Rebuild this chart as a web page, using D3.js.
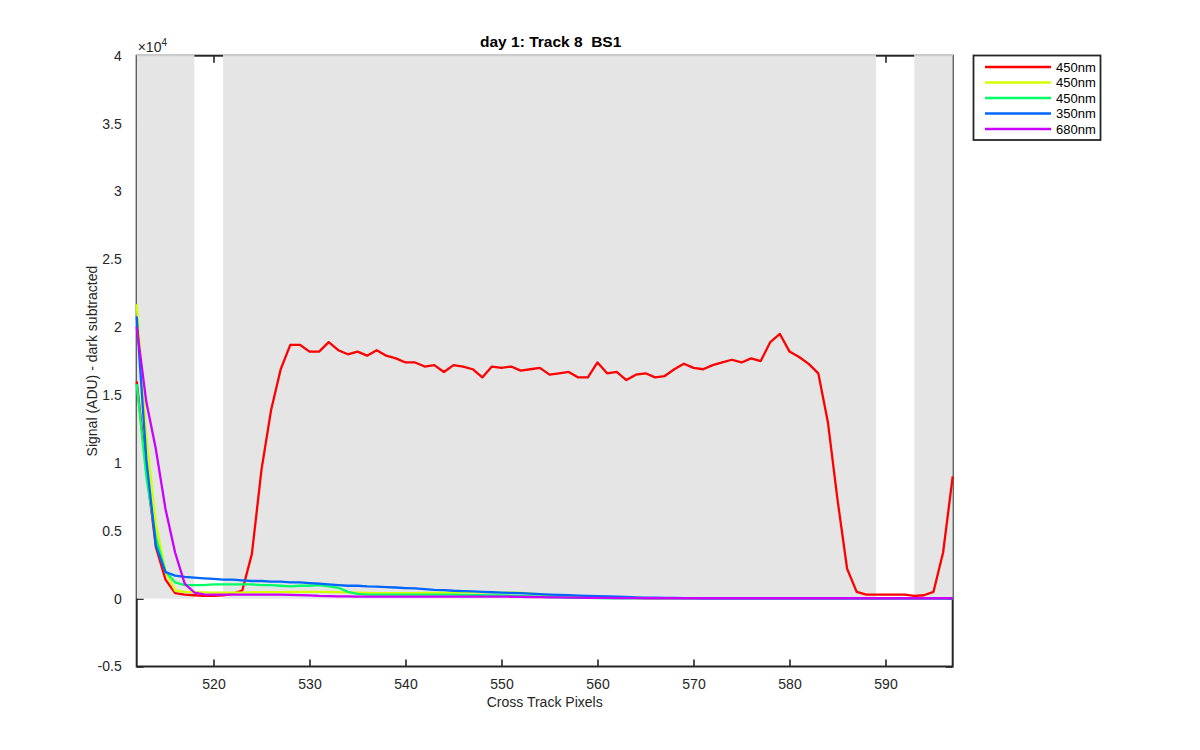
<!DOCTYPE html>
<html>
<head>
<meta charset="utf-8">
<script src="https://cdn.jsdelivr.net/npm/d3@7"></script>
<style>
  body { margin: 0; background: #fff; }
  svg { font-family: "Liberation Sans", Arial, Helvetica, sans-serif; }
</style>
</head>
<body>
<svg id="chart" width="1200" height="750"></svg>
<script>
// ---- data (signal in ADU, x = cross-track pixel 512..597) ----
const pixels = d3.range(512, 598);
const seriesNames = ["450nm", "450nm", "450nm", "350nm", "680nm"];
const seriesColors = ["#ff0000", "#d4ff00", "#00ff66", "#0066ff", "#cc00ff"];

const red = [16000, 9500, 3800, 1400, 400, 300, 250, 200, 200, 250, 350, 600, 3300, 9500, 13900, 16900,
  18700, 18700, 18200, 18200, 18900, 18300, 18000, 18200, 17900, 18300, 17900, 17700, 17400, 17400,
  17100, 17200, 16700, 17200, 17100, 16900, 16300, 17100, 17000, 17100, 16800, 16900, 17000, 16500,
  16600, 16700, 16300, 16300, 17400, 16600, 16700, 16100, 16500, 16600, 16300, 16400, 16900, 17300,
  17000, 16900, 17200, 17400, 17600, 17400, 17700, 17500, 18900, 19500, 18200, 17800, 17300, 16600,
  13000, 7300, 2200, 500, 300, 300, 300, 300, 300, 200, 250, 500, 3400, 9000];

const yellow = [21700, 12000, 5500, 2000, 600, 500, 480, 460, 450, 450, 450, 450, 460, 470, 480, 480,
  490, 490, 500, 500, 490, 480, 460, 440, 420, 410, 400, 400, 400, 410, 420, 430, 440, 450, 460, 470,
  470, 460, 450, 440, 430, 380, 300, 220, 170, 140, 120, 100, 90, 80, 70, 60, 50, 40, 30, 30, 30, 20,
  20, 20, 20, 20, 20, 20, 20, 20, 20, 20, 20, 20, 20, 20, 20, 20, 20, 20, 20, 20, 20, 20, 20, 20, 20,
  20, 20, 20];

const green = [15800, 9000, 4500, 2000, 1200, 1000, 1000, 1000, 1050, 1050, 1050, 1050, 1050, 1000,
  1000, 950, 900, 950, 950, 1000, 900, 800, 500, 350, 300, 300, 300, 300, 300, 300, 300, 300, 300, 300,
  280, 260, 250, 240, 230, 220, 200, 170, 140, 120, 100, 80, 60, 50, 40, 30, 30, 20, 20, 20, 20, 20, 20,
  20, 20, 20, 20, 20, 20, 20, 20, 20, 20, 20, 20, 20, 20, 20, 20, 20, 20, 20, 20, 20, 20, 20, 20, 20,
  20, 20, 20, 20];

const blue = [20800, 10300, 3900, 1950, 1700, 1600, 1550, 1500, 1450, 1400, 1400, 1350, 1300, 1300, 1250,
  1250, 1200, 1200, 1150, 1100, 1050, 1000, 950, 950, 900, 880, 850, 820, 780, 750, 700, 650, 620, 580,
  560, 540, 500, 470, 440, 420, 400, 370, 330, 300, 270, 250, 220, 200, 180, 160, 150, 120, 100, 80, 70,
  60, 50, 40, 40, 30, 30, 30, 30, 30, 30, 30, 30, 30, 30, 30, 30, 30, 30, 30, 30, 30, 30, 30, 30, 30,
  30, 30, 30, 30, 30, 30];

const purple = [20000, 14500, 11000, 6600, 3400, 1100, 450, 320, 300, 300, 300, 300, 300, 300, 300, 300,
  280, 260, 240, 200, 180, 160, 160, 150, 150, 150, 150, 150, 150, 150, 150, 150, 150, 150, 150, 150,
  150, 150, 150, 140, 130, 120, 110, 100, 90, 80, 70, 60, 50, 50, 40, 40, 40, 30, 30, 30, 30, 30, 30,
  30, 30, 30, 30, 30, 30, 30, 30, 30, 30, 30, 30, 30, 30, 30, 30, 30, 30, 30, 30, 30, 30, 30, 30, 30,
  30, 30];

const seriesValues = [red, yellow, green, blue, purple];

// shaded bands (pixel ranges) drawn from 0 to 4e4
const bandStarts = [512, 521, 593];
const bandEnds = [518, 589, 597];
const bandTop = 40000;

const xTicks = [520, 530, 540, 550, 560, 570, 580, 590];
const yTicks = [-5000, 0, 5000, 10000, 15000, 20000, 25000, 30000, 35000, 40000];

const titleText = "day 1: Track 8\u00a0\u00a0BS1";
const xLabelText = "Cross Track Pixels";
const yLabelText = "Signal (ADU) - dark subtracted";

// ---- layout ----
const L = 136.7, R = 952.7, T = 55.7, B = 666.5;
const axisColor = "#262626";
const svg = d3.select("#chart");

const x = d3.scaleLinear().domain([512, 597]).range([L, R]);
const y = d3.scaleLinear().domain([-5000, 40000]).range([B, T]);

const fmt = v => String(+(v / 10000).toFixed(1));

// axes box
const gAx = svg.append("g");
gAx.append("rect").attr("x", L).attr("y", T).attr("width", R - L).attr("height", B - T)
  .attr("fill", "none").attr("stroke", axisColor).attr("stroke-width", 2);

// x ticks bottom & top (inward)
const bottomAxis = d3.axisBottom(x).tickValues(xTicks).tickSizeInner(-7).tickSizeOuter(0).tickPadding(13).tickFormat(d3.format("d"));
const gx = svg.append("g").attr("transform", `translate(0,${B})`).call(bottomAxis);
gx.select(".domain").remove();
gx.selectAll(".tick line").attr("stroke", axisColor).attr("stroke-width", 1.6);
gx.selectAll(".tick text").attr("fill", "#262626").attr("font-size", 14);

const topAxis = d3.axisTop(x).tickValues(xTicks).tickSizeInner(-7).tickSizeOuter(0).tickFormat("");
const gxt = svg.append("g").attr("transform", `translate(0,${T})`).call(topAxis);
gxt.select(".domain").remove();
gxt.selectAll(".tick line").attr("stroke", axisColor).attr("stroke-width", 1.6);

// y ticks left & right
const leftAxis = d3.axisLeft(y).tickValues(yTicks).tickSizeInner(-7).tickSizeOuter(0).tickPadding(15).tickFormat(fmt);
const gy = svg.append("g").attr("transform", `translate(${L},0)`).call(leftAxis);
gy.select(".domain").remove();
gy.selectAll(".tick line").attr("stroke", axisColor).attr("stroke-width", 1.6);
gy.selectAll(".tick text").attr("fill", "#262626").attr("font-size", 14);

const rightAxis = d3.axisRight(y).tickValues(yTicks).tickSizeInner(-7).tickSizeOuter(0).tickFormat("");
const gyr = svg.append("g").attr("transform", `translate(${R},0)`).call(rightAxis);
gyr.select(".domain").remove();
gyr.selectAll(".tick line").attr("stroke", axisColor).attr("stroke-width", 1.6);

// shaded bands (drawn over axes as in the original)
const bands = bandStarts.map((s, i) => ({ s, e: bandEnds[i] }));
const gb = svg.append("g");
gb.selectAll("rect").data(bands).join("rect")
  .attr("x", d => x(d.s))
  .attr("y", y(bandTop) - 1)
  .attr("width", d => x(d.e) - x(d.s))
  .attr("height", y(0) - y(bandTop) + 1)
  .attr("fill", "#e5e5e5");
gb.selectAll("line").data(bands).join("line")
  .attr("x1", d => x(d.s)).attr("x2", d => x(d.e))
  .attr("y1", y(bandTop)).attr("y2", y(bandTop))
  .attr("stroke", "#c8c8c8").attr("stroke-width", 1);

// lines
const line = d3.line().x((d, i) => x(pixels[i])).y(d => y(d));
svg.append("g").selectAll("path").data(seriesValues).join("path")
  .attr("d", d => line(d))
  .attr("fill", "none")
  .attr("stroke", (d, i) => seriesColors[i])
  .attr("stroke-width", 2.3)
  .attr("stroke-linejoin", "round");

// exponent label
const ex = svg.append("text").attr("x", L + 1).attr("y", T - 4).attr("font-size", 14).attr("fill", "#262626");
ex.append("tspan").text("\u00d710");
ex.append("tspan").attr("font-size", 10).attr("dy", -6).text("4");

// title
svg.append("text").attr("x", (L + R) / 2 + 6).attr("y", 47).attr("text-anchor", "middle")
  .attr("font-size", 15.5).attr("font-weight", "bold").attr("fill", "#000")
  .style("white-space", "pre").text(titleText);

// x label
svg.append("text").attr("x", (L + R) / 2).attr("y", 707).attr("text-anchor", "middle")
  .attr("font-size", 14).attr("fill", "#262626").text(xLabelText);

// y label
svg.append("text").attr("transform", `translate(97,${(T + B) / 2}) rotate(-90)`)
  .attr("text-anchor", "middle").attr("font-size", 14).attr("fill", "#262626").text(yLabelText);

// legend
const lg = svg.append("g");
lg.append("rect").attr("x", 973.5).attr("y", 55.5).attr("width", 127).attr("height", 84.5)
  .attr("fill", "#fff").attr("stroke", axisColor).attr("stroke-width", 1.8);
const rowY = d3.scaleLinear().domain([0, 4]).range([67, 129]);
seriesNames.forEach((name, i) => {
  lg.append("line").attr("x1", 985).attr("x2", 1051).attr("y1", rowY(i)).attr("y2", rowY(i))
    .attr("stroke", seriesColors[i]).attr("stroke-width", 2.5);
  lg.append("text").attr("x", 1056).attr("y", rowY(i) + 4.5).attr("font-size", 13)
    .attr("fill", "#000").text(name);
});
</script>
</body>
</html>
